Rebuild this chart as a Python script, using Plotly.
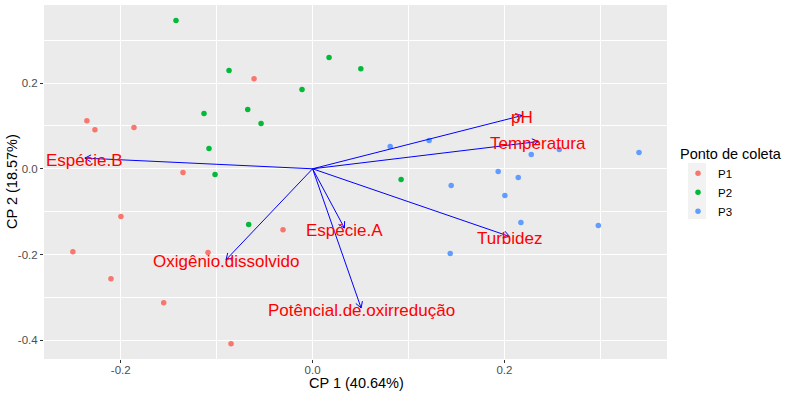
import numpy as np
import plotly.graph_objects as go

# ---- data ----
p1_x = [-0.2353, -0.2269, -0.1862, -0.0610, -0.1351, -0.1998, -0.2499, -0.2102, -0.1552, -0.1090, -0.0308, -0.0850]
p1_y = [0.1119, 0.0909, 0.0963, 0.2098, -0.0086, -0.1112, -0.1935, -0.2564, -0.3124, -0.1951, -0.1422, -0.4079]
p2_x = [-0.1424, -0.0871, -0.1132, -0.0676, -0.0537, -0.0110, -0.1080, -0.1017, 0.0172, 0.0503, 0.0923, -0.0666]
p2_y = [0.3457, 0.2291, 0.1289, 0.1382, 0.1056, 0.1848, 0.0473, -0.0133, 0.2594, 0.2331, -0.0249, -0.1298]
p3_x = [0.0809, 0.1215, 0.2280, 0.2572, 0.3403, 0.1935, 0.2144, 0.1445, 0.2005, 0.2172, 0.2979, 0.1435]
p3_y = [0.0520, 0.0660, 0.0333, 0.0450, 0.0380, -0.0063, -0.0203, -0.0389, -0.0622, -0.1252, -0.1322, -0.1974]

load_names = ["pH", "Temperatura", "Espécie.B", "Oxigênio.dissolvido", "Espécie.A",
              "Potêncial.de.oxirredução", "Turbidez"]
load_x = [0.2183, 0.2353, -0.2374, -0.0902, 0.0332, 0.0506, 0.2053]
load_y = [0.1242, 0.0636, 0.0249, -0.2121, -0.1382, -0.3247, -0.1578]

groups = ["P1", "P2", "P3"]
colors = ["#F8766D", "#00BA38", "#619CFF"]

x_range = [-0.280, 0.3695]
y_range = [-0.4436, 0.382]
x_major = [-0.2, 0.0, 0.2]
y_major = [-0.4, -0.2, 0.0, 0.2]

W, H = 792, 396
ml, mr, mt, mb = 44, 125, 5, 37
pw, ph = W - ml - mr, H - mt - mb

def px2paper_x(px):
    return (px - ml) / pw

def px2paper_y(py):
    return (H - mb - py) / ph

fig = go.Figure()

# arrows (shafts)
sx, sy = [], []
for x, y in zip(load_x, load_y):
    sx += [0, x, None]
    sy += [0, y, None]

# open arrowheads computed in pixel space
px_per_x = pw / (x_range[1] - x_range[0])
px_per_y = ph / (y_range[1] - y_range[0])
head_len = 7.0
ang = np.deg2rad(30)
hx, hy = [], []
for x, y in zip(load_x, load_y):
    dx, dy = x * px_per_x, y * px_per_y
    n = np.hypot(dx, dy)
    ux, uy = dx / n, dy / n
    for s in (ang, -ang):
        rx = ux * np.cos(s) - uy * np.sin(s)
        ry = ux * np.sin(s) + uy * np.cos(s)
        bx = x - rx * head_len / px_per_x
        by = y - ry * head_len / px_per_y
        hx += [bx, x, None]
        hy += [by, y, None]

for g, xs, ys, c in zip(groups, [p1_x, p2_x, p3_x], [p1_y, p2_y, p3_y], colors):
    fig.add_trace(go.Scatter(x=xs, y=ys, mode="markers", name=g,
                             marker=dict(color=c, size=5.5)))

fig.add_trace(go.Scatter(x=sx, y=sy, mode="lines", line=dict(color="#0000FF", width=1),
                         showlegend=False, hoverinfo="skip"))
fig.add_trace(go.Scatter(x=hx, y=hy, mode="lines", line=dict(color="#0000FF", width=1),
                         showlegend=False, hoverinfo="skip"))

label_annots = [
    dict(text=n, x=x, y=y, xref="x", yref="y", showarrow=False, yshift=-2,
         xanchor="center", yanchor="middle",
         font=dict(color="#FF0000", size=17, family="Liberation Sans, Arial"))
    for n, x, y in zip(load_names, load_x, load_y)
]

axis_common = dict(showgrid=True, gridcolor="white", gridwidth=1.1,
                   zeroline=False, ticks="outside", ticklen=3, tickcolor="#333333",
                   tickfont=dict(size=11.5, color="#4D4D4D"),
                   showline=False, automargin=False)

leg_x_px = 678
fig.update_layout(
    width=W, height=H,
    margin=dict(l=ml, r=mr, t=mt, b=mb),
    paper_bgcolor="white", plot_bgcolor="#EBEBEB",
    font=dict(family="Liberation Sans, Arial", color="black"),
    xaxis=dict(range=x_range, tickvals=x_major, ticktext=["-0.2", "0.0", "0.2"],
               ticklabelstandoff=-3,
               minor=dict(showgrid=True, gridcolor="white", gridwidth=0.5, ticks="",
                          tickvals=[-0.1, 0.1, 0.3]),
               **axis_common),
    yaxis=dict(range=y_range, tickvals=y_major, ticktext=["-0.4", "-0.2", "0.0", "0.2"],
               minor=dict(showgrid=True, gridcolor="white", gridwidth=0.5, ticks="",
                          tickvals=[-0.3, -0.1, 0.1, 0.3]),
               **axis_common),
    legend=dict(title=dict(text="Ponto de coleta", font=dict(size=14.5)),
                x=px2paper_x(leg_x_px), xanchor="left", y=px2paper_y(140), yanchor="top",
                font=dict(size=11.5), bgcolor="rgba(0,0,0,0)",
                itemsizing="trace", tracegroupgap=0),
    annotations=label_annots + [
        dict(text="CP 1 (40.64%)", x=px2paper_x(356), y=px2paper_y(383), xref="paper", yref="paper",
             showarrow=False, font=dict(size=14.5), xanchor="center", yanchor="middle"),
        dict(text="CP 2 (18.57%)", x=px2paper_x(12), y=px2paper_y(182), xref="paper", yref="paper",
             showarrow=False, font=dict(size=14.5), textangle=-90, xanchor="center", yanchor="middle"),
    ],
    shapes=[
        dict(type="rect", xref="paper", yref="paper", layer="below",
             x0=px2paper_x(leg_x_px + 10), x1=px2paper_x(leg_x_px + 28),
             y0=px2paper_y(163), y1=px2paper_y(219),
             fillcolor="#F2F2F2", line=dict(width=0)),
    ],
)

fig.write_html("out.html", config={"displayModeBar": False},
               post_script="document.body.style.margin='0';document.body.style.overflow='hidden';")
